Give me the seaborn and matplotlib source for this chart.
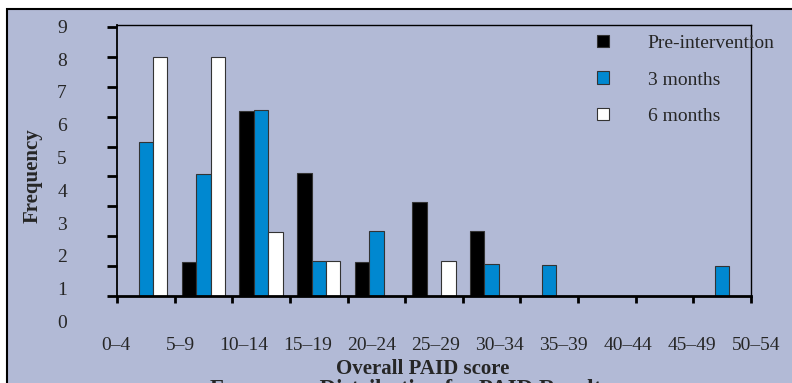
import matplotlib
matplotlib.use("Agg")
import matplotlib.pyplot as plt
from matplotlib.patches import Rectangle
from matplotlib.transforms import blended_transform_factory
import numpy as np
import pandas as pd
import seaborn as sns

# score bands and frequencies
score_bands = ["0–4", "5–9", "10–14", "15–19", "20–24", "25–29",
               "30–34", "35–39", "40–44", "45–49", "50–54"]
groups = ["Pre-intervention", "3 months", "6 months"]
pre_vals = [0, 1.15, 6.2, 4.1, 1.15, 3.15, 2.17, 0, 0, 0, 0]
m3_vals = [5.15, 4.08, 6.22, 1.16, 2.17, 0, 1.06, 1.03, 0, 0, 1.0]
m6_vals = [8.0, 8.0, 2.13, 1.16, 0, 1.16, 0, 0, 0, 0, 0]
y_labels = list(range(10))

BG = "#B2BAD6"
colors = {"Pre-intervention": "#000000", "3 months": "#0088D0", "6 months": "#FFFFFF"}

rows = []
for g, vals in zip(groups, [pre_vals, m3_vals, m6_vals]):
    for band, v in zip(score_bands, vals):
        if v > 0:
            rows.append({"band": band, "group": g, "freq": v})
df = pd.DataFrame(rows)

sns.set_style("ticks")
plt.rcParams["font.family"] = ["Liberation Serif", "DejaVu Serif"]

W, H = 792, 383
fig = plt.figure(figsize=(W / 100, H / 100), dpi=100)
fig.patch.set_facecolor("white")
fig.patches.append(Rectangle((7 / W, -0.1), 1.2, 1 - 9 / H + 0.1, transform=fig.transFigure,
                             facecolor=BG, edgecolor="black", linewidth=1.5, zorder=-5))
ax = fig.add_axes([117 / W, 1 - 296 / H, (751 - 117) / W, (296 - 25) / H])
ax.set_facecolor(BG)

sns.barplot(data=df, x="band", y="freq", hue="group", order=score_bands, hue_order=groups,
            palette=colors, width=0.75, saturation=1, edgecolor="#333333", linewidth=0.8,
            ax=ax)

ax.set_xlim(-0.5, 10.5)
ax.set_ylim(0, 9.07)
ax.set_xticks(np.arange(-0.5, 11, 1))
ax.set_xticklabels([])
ax.set_yticks(y_labels)
ax.set_yticklabels([])
ax.set_xlabel("")
ax.set_ylabel("")
ax.tick_params(axis="x", length=5, width=2, color="black")
ax.tick_params(axis="y", length=7, width=2, color="black")
for side in ["top", "right"]:
    ax.spines[side].set_visible(True)
    ax.spines[side].set_linewidth(1)
ax.spines["left"].set_linewidth(1.3)
ax.spines["bottom"].set_linewidth(2)
for s in ax.spines.values():
    s.set_color("black")

# tick labels sit off the ticks in the original figure
ylab_tr = blended_transform_factory(fig.transFigure, ax.transData)
for v in y_labels:
    ax.text(62 / W, -0.924 + 1.098 * v, str(v), transform=ylab_tr,
            ha="center", va="center", fontsize=14)
xlab_tr = blended_transform_factory(ax.transData, fig.transFigure)
for i, band in enumerate(score_bands):
    ax.text(-0.517 + 1.11 * i, 1 - 346 / H, band, transform=xlab_tr,
            ha="center", va="center", fontsize=14)

fig.text(423 / W, 1 - 369 / H, "Overall PAID score", ha="center", va="center",
         fontsize=15, fontweight="bold")
fig.text(33 / W, 1 - 176 / H, "Frequency", ha="center", va="center", rotation=90,
         fontsize=15, fontweight="bold")
# caption is cropped at the bottom edge in the original
fig.text(410 / W, 1 - 395 / H, "Frequency Distribution for PAID Results", ha="center",
         va="baseline", fontsize=16.5, fontweight="bold")

handles, labels = ax.get_legend_handles_labels()
ax.legend(handles, labels, loc="upper left", bbox_to_anchor=(597 / W, 1 - 35 / H),
          bbox_transform=fig.transFigure, frameon=False, fontsize=14,
          handlelength=0.6, handleheight=0.6, handletextpad=2.0, labelspacing=1.0,
          borderpad=0, borderaxespad=0)

fig.savefig("out.png", dpi=100, facecolor=fig.get_facecolor())
